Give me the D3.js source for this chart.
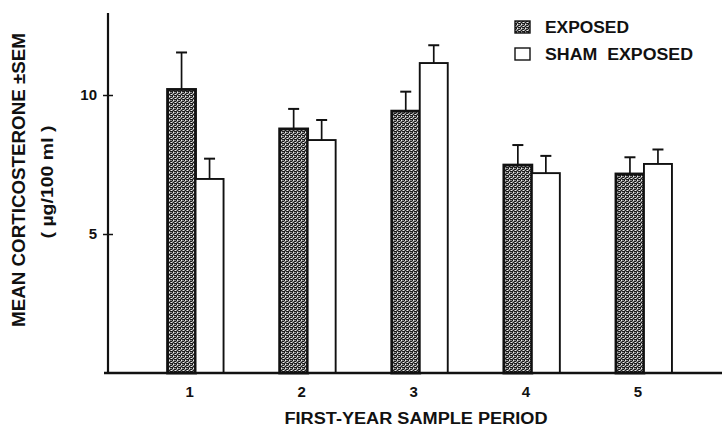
<!DOCTYPE html>
<html><head><meta charset="utf-8">
<script src="https://cdn.jsdelivr.net/npm/d3@7"></script>
<style>
html,body{margin:0;padding:0;background:#fff;}
svg{display:block;}
text{font-family:"Liberation Sans",Arial,sans-serif;font-weight:bold;fill:#111;}
</style></head>
<body><svg id="c" width="722" height="439"></svg>
<script>
const periods = ["1","2","3","4","5"];
const seriesNames = ["EXPOSED","SHAM EXPOSED"];
const exposedMean = [10.2, 8.78, 9.42, 7.48, 7.16];
const exposedSEM  = [1.33, 0.72, 0.70, 0.72, 0.60];
const shamMean    = [6.98, 8.38, 11.15, 7.19, 7.52];
const shamSEM     = [0.73, 0.72, 0.64, 0.62, 0.52];
const yTicks = [5, 10];

const svg = d3.select("#c");
const defs = svg.append("defs");
const pat = defs.append("pattern").attr("id","stip").attr("patternUnits","userSpaceOnUse")
  .attr("width",4).attr("height",4);
pat.append("rect").attr("width",4).attr("height",4).attr("fill","#8c8c8c");
[[0,0],[2,1],[1,2],[3,3],[0,3],[3,1],[2,3]].forEach(([a,b])=>
  pat.append("rect").attr("x",a).attr("y",b).attr("width",1).attr("height",1).attr("fill","#1a1a1a"));
[[1,0],[3,2]].forEach(([a,b])=>
  pat.append("rect").attr("x",a).attr("y",b).attr("width",1).attr("height",1).attr("fill","#eee"));

const y = d3.scaleLinear().domain([0, 12.95]).range([373, 13]);
const x = d3.scaleBand().domain(periods).range([139.5, 700]).padding(0);
const xs = d3.scaleBand().domain(seriesNames).range([-28, 28]);

const data = periods.map((p,i)=>[
  {p, s:seriesNames[0], v:exposedMean[i], e:exposedSEM[i]},
  {p, s:seriesNames[1], v:shamMean[i], e:shamSEM[i]}
]).flat();

const g = svg.append("g");
const cx = d => x(d.p)+x.bandwidth()/2+xs(d.s)+xs.bandwidth()/2;
// error bars
const eb = g.selectAll(".eb").data(data).enter().append("g");
eb.append("line")
  .attr("x1", cx).attr("x2", cx)
  .attr("y1", d=>y(d.v)).attr("y2", d=>y(d.v+d.e))
  .attr("stroke","#111").attr("stroke-width",1.7);
eb.append("line")
  .attr("x1", d=>cx(d)-5.5).attr("x2", d=>cx(d)+5.5)
  .attr("y1", d=>y(d.v+d.e)).attr("y2", d=>y(d.v+d.e))
  .attr("stroke","#111").attr("stroke-width",2);

// bars
g.selectAll(".bar").data(data).enter().append("rect")
  .attr("x", d=>x(d.p)+x.bandwidth()/2+xs(d.s))
  .attr("width", xs.bandwidth())
  .attr("y", d=>y(d.v))
  .attr("height", d=>y(0)-y(d.v))
  .attr("fill", d=>d.s===seriesNames[0]?"url(#stip)":"#fff")
  .attr("stroke","#111")
  .attr("stroke-width", d=>d.s===seriesNames[0]?2.8:1.9);

// y axis
const ya = svg.append("g").attr("transform","translate(108,0)")
  .call(d3.axisLeft(y).tickValues(yTicks).tickFormat(d3.format("d")).tickSizeInner(5).tickSizeOuter(0).tickPadding(6));
ya.select(".domain").remove();
ya.selectAll(".tick line").attr("x1",5).attr("stroke","#111").attr("stroke-width",1.5);
ya.selectAll(".tick text").style("font-size","15px").attr("fill","#111");
svg.append("line").attr("x1",108).attr("x2",108).attr("y1",y.range()[1]).attr("y2",y(0)+1)
  .attr("stroke","#111").attr("stroke-width",2.2);

// x axis
const xa = svg.append("g").attr("transform",`translate(0,${y(0)})`)
  .call(d3.axisBottom(x).tickSize(0).tickPadding(13));
xa.select(".domain").remove();
xa.selectAll(".tick text").attr("dx",-6).style("font-size","15px").attr("fill","#111");
svg.append("line").attr("x1",104).attr("x2",722).attr("y1",y(0)).attr("y2",y(0))
  .attr("stroke","#111").attr("stroke-width",2.4);

// axis titles
svg.append("text").attr("x",416).attr("y",424).attr("text-anchor","middle")
  .style("font-size","16px").attr("textLength",263).attr("lengthAdjust","spacingAndGlyphs")
  .text("FIRST-YEAR SAMPLE PERIOD");
svg.append("text").attr("transform","translate(25,180) rotate(-90)").attr("text-anchor","middle")
  .style("font-size","18px").attr("textLength",294).attr("lengthAdjust","spacingAndGlyphs")
  .text("MEAN CORTICOSTERONE ±SEM");
svg.append("text").attr("transform","translate(53,182) rotate(-90)").attr("text-anchor","middle")
  .style("font-size","17px").attr("textLength",113).attr("lengthAdjust","spacingAndGlyphs")
  .text("( µg/100 ml )");

// legend
const leg = svg.append("g");
const legY = [27, 54];
seriesNames.forEach((s,i)=>{
  leg.append("rect").attr("x",515).attr("y",legY[i]-6).attr("width",15).attr("height",12)
    .attr("fill", i===0?"url(#stip)":"#fff").attr("stroke","#111").attr("stroke-width",1.4);
  leg.append("text").attr("x",545).attr("y",legY[i]+6).style("font-size","16px")
    .attr("textLength", i===0?84:148).attr("lengthAdjust","spacingAndGlyphs")
    .style("white-space","pre")
    .text(i===0?s:"SHAM  EXPOSED");
});
</script></body></html>
